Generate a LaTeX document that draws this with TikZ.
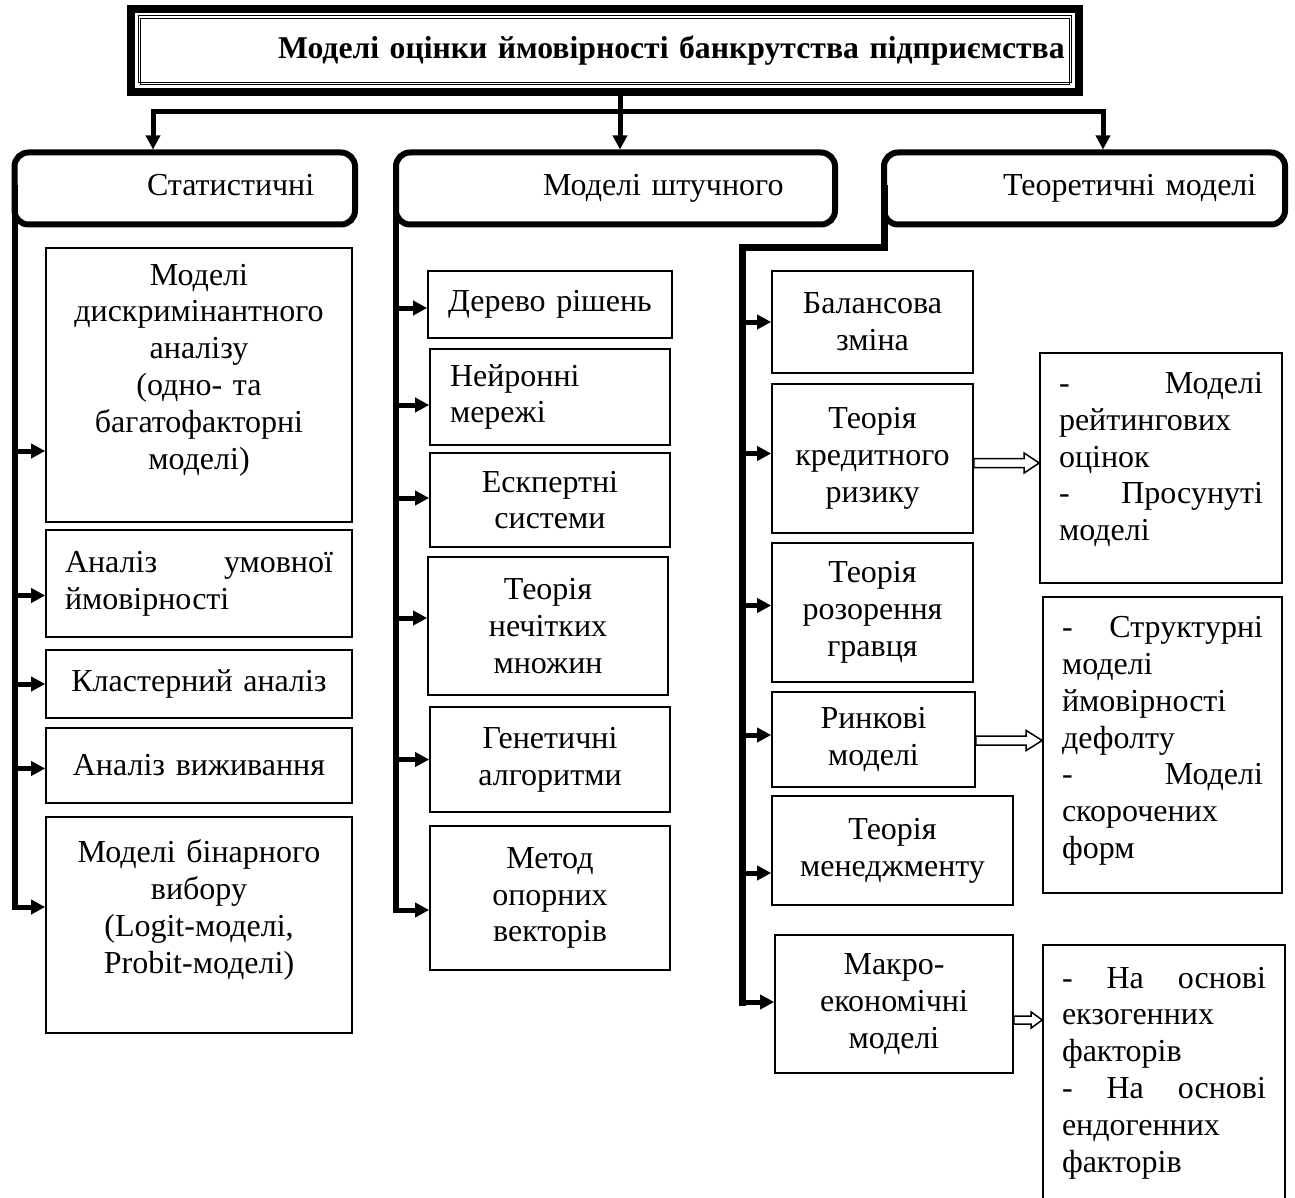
\documentclass[tikz,border=0pt]{standalone}
\usepackage{fontspec}
\setmainfont{Liberation Serif}
\usetikzlibrary{arrows.meta,calc}
\begin{document}
\begin{tikzpicture}[x=1pt,y=-1pt,
  every node/.style={font=\fontsize{32}{36.8}\selectfont},
  bx/.style={draw, line width=1.6pt, rectangle, inner xsep=19pt, inner ysep=0pt, align=center},
  bxl/.style={bx, align=left},
  hd/.style={draw, line width=6pt, rounded corners=14pt, inner sep=0pt, outer sep=3pt, align=left,
             text height=22pt, text depth=7pt},
  spine/.style={line width=6pt, line cap=rect},
  spinethick/.style={line width=7pt, line cap=rect},
  br/.style={line width=5pt, -{Triangle[length=14pt,width=14pt]}},
  topline/.style={line width=5pt},
  hollow/.style={draw, line width=1.5pt, fill=white}
]
\fill[white] (0,0) rectangle (1295,1198);
\useasboundingbox (0,0) rectangle (1295,1198);
\clip (0,0) rectangle (1295,1198);

% title
\node[inner sep=0pt, minimum width=948pt, minimum height=83pt, text width=948pt, align=left,
      font=\fontsize{31.7}{36.8}\selectfont\bfseries] (title) at (605,50.5)
      {\hspace*{147pt}Моделі оцінки ймовірності банкрутства підприємства};
\draw[line width=8.5pt] (title.north west) rectangle (title.south east);
\draw[line width=1pt] ($(title.north west)+(7.5,7)$) rectangle ($(title.south east)+(-7.5,-10)$);
\draw[line width=1pt] ($(title.north west)+(10,9.5)$) rectangle ($(title.south east)+(-10,-7.5)$);

% headers
\node[hd, minimum width=340.5pt, minimum height=72pt, text width=340.5pt] (h1) at (184.75,188.5)
  {\hspace*{132.5pt}Статистичні};
\node[hd, minimum width=439pt, minimum height=72pt, text width=439pt] (h2) at (615.5,188.5)
  {\hspace*{147pt}Моделі штучного};
\node[hd, minimum width=401pt, minimum height=72pt, text width=401pt] (h3) at (1084.5,188.5)
  {\hspace*{119pt}Теоретичні моделі};

% top connectors
\coordinate (jl) at (153,112);
\coordinate (jm) at (620,112);
\coordinate (jr) at (1103,112);
\draw[topline, {Triangle[length=14pt,width=14pt]}-{Triangle[length=14pt,width=14pt]}]
  (h1.north -| jl) -- (jl) -- (jr) -- (h3.north -| jr);
\draw[topline, -{Triangle[length=14pt,width=14pt]}] (title.south -| jm) -- (h2.north -| jm);

% left column boxes
\node[bx, minimum width=306pt, minimum height=274pt, text width=268pt] (A) at (199,385)
  {Моделі\\ дискримінантного\\ аналізу\\ (одно- та\\ багатофакторні\\ моделі)\\ ~};
\node[bxl, minimum width=306pt, minimum height=107pt, text width=268pt] (B) at (199,583.5)
  {Аналіз\hfill умовної\\ ймовірності};
\node[bx, minimum width=306pt, minimum height=68pt, text width=268pt] (C) at (199,684)
  {Кластерний аналіз};
\node[bx, minimum width=306pt, minimum height=75pt, text width=268pt] (D) at (199,765.5)
  {Аналіз виживання};
\node[bx, minimum width=306pt, minimum height=216pt, text width=268pt] (E) at (199,925)
  {Моделі бінарного\\ вибору\\ (Logit-моделі,\\ Probit-моделі)\\ ~};

% middle column boxes
\node[bx, minimum width=244pt, minimum height=67pt, text width=206pt] (M1) at (550,304.5)
  {Дерево рішень};
\node[bxl, minimum width=240pt, minimum height=96pt, text width=200pt, inner xsep=20pt] (M2) at (550,397)
  {Нейронні\\ мережі};
\node[bx, minimum width=240pt, minimum height=94pt, text width=202pt] (M3) at (550,500)
  {Ескпертні\\ системи};
\node[bx, minimum width=240pt, minimum height=138pt, text width=202pt] (M4) at (548,626)
  {Теорія\\ нечітких\\ множин};
\node[bx, minimum width=240pt, minimum height=105pt, text width=202pt] (M5) at (550,759.5)
  {Генетичні\\ алгоритми};
\node[bx, minimum width=240pt, minimum height=144pt, text width=202pt] (M6) at (550,898)
  {Метод\\ опорних\\ векторів};

% right column boxes
\node[bx, minimum width=201pt, minimum height=102pt, text width=181pt, inner xsep=10pt] (T1) at (872.5,322)
  {Балансова\\ зміна};
\node[bx, minimum width=201pt, minimum height=149pt, text width=181pt, inner xsep=10pt] (T2) at (872.5,458.5)
  {Теорія\\ кредитного\\ ризику};
\node[bx, minimum width=201pt, minimum height=139pt, text width=181pt, inner xsep=10pt] (T3) at (872.5,612.5)
  {Теорія\\ розорення\\ гравця};
\node[bx, minimum width=203pt, minimum height=95pt, text width=183pt, inner xsep=10pt] (T4) at (873.5,739.5)
  {Ринкові\\ моделі};
\node[bx, minimum width=241pt, minimum height=109pt, text width=221pt, inner xsep=10pt] (T5) at (892.5,850.5)
  {Теорія\\ менеджменту};
\node[bx, minimum width=238pt, minimum height=138pt, text width=218pt, inner xsep=10pt] (T6) at (894,1004)
  {Макро-\\ економічні\\ моделі};

% far right boxes
\node[bxl, minimum width=242pt, minimum height=230pt, text width=204pt] (R1) at (1161,468)
  {-\hfill Моделі\\ рейтингових\\ оцінок\\ -\hfill Просунуті\\ моделі\\[-14pt] ~};
\node[bxl, minimum width=239pt, minimum height=296pt, text width=201pt] (R2) at (1162.5,745)
  {-\hfill Структурні\\ моделі\\ ймовірності\\ дефолту\\ -\hfill Моделі\\ скорочених\\ форм\\[-22pt] ~};
\node[bxl, minimum width=242pt, minimum height=256pt, text width=204pt] (R3) at (1164,1073)
  {-\hfill На\hfill основі\\ екзогенних\\ факторів\\ -\hfill На\hfill основі\\ ендогенних\\ факторів};

% arrow end points
\coordinate (aA) at ([yshift=-66pt]A.west);
\coordinate (aB) at ([yshift=-12pt]B.west);
\coordinate (aC) at (C.west);
\coordinate (aD) at ([yshift=-3pt]D.west);
\coordinate (aE) at ([yshift=18pt]E.west);
\coordinate (aM1) at ([yshift=-3.5pt]M1.west);
\coordinate (aM2) at ([yshift=-8pt]M2.west);
\coordinate (aM3) at ([yshift=2pt]M3.west);
\coordinate (aM4) at ([yshift=8pt]M4.west);
\coordinate (aM5) at (M5.west);
\coordinate (aM6) at ([yshift=-12pt]M6.west);
\coordinate (aT1) at (T1.west);
\coordinate (aT2) at ([yshift=5pt]T2.west);
\coordinate (aT3) at ([yshift=7pt]T3.west);
\coordinate (aT4) at ([yshift=4.5pt]T4.west);
\coordinate (aT5) at ([yshift=-22.5pt]T5.west);
\coordinate (aT6) at ([yshift=2pt]T6.west);

% left spine
\coordinate (s1) at ([xshift=3pt]h1.west);
\draw[spine] (s1) -- (s1 |- aE);
\foreach \t in {aA,aB,aC,aD,aE} \draw[br] (s1 |- \t) -- (\t);

% middle spine
\coordinate (s2) at ([xshift=3pt]h2.west);
\draw[spine] (s2) -- (s2 |- aM6);
\foreach \t in {aM1,aM2,aM3,aM4,aM5,aM6} \draw[br] (s2 |- \t) -- (\t);

% right spine
\coordinate (s3) at ([xshift=3pt]h3.west);
\coordinate (k) at (742,248);
\draw[spinethick] (s3) -- (s3 |- k) -- (k) -- (k |- aT6);
\foreach \t in {aT1,aT2,aT3,aT4,aT5,aT6} \draw[br] (k |- \t) -- (\t);

% hollow arrows
\coordinate (y1) at (0,463);
\coordinate (y2) at (0,740.5);
\coordinate (y3) at (0,1020);
\draw[hollow] let \p1=(T2.east |- y1), \p2=(R1.west |- y1) in
  (\x1,\y1+4.5pt) -- (\x2-15pt,\y1+4.5pt) -- (\x2-15pt,\y1+10pt) -- (\x2,\y1)
  -- (\x2-15pt,\y1-10pt) -- (\x2-15pt,\y1-4.5pt) -- (\x1,\y1-4.5pt) -- cycle;
\draw[hollow] let \p1=(T4.east |- y2), \p2=(R2.west |- y2) in
  (\x1,\y1+4.5pt) -- (\x2-16pt,\y1+4.5pt) -- (\x2-16pt,\y1+10pt) -- (\x2,\y1)
  -- (\x2-16pt,\y1-10pt) -- (\x2-16pt,\y1-4.5pt) -- (\x1,\y1-4.5pt) -- cycle;
\draw[hollow] let \p1=(T6.east |- y3), \p2=(R3.west |- y3) in
  (\x1,\y1+4pt) -- (\x2-11pt,\y1+4pt) -- (\x2-11pt,\y1+8pt) -- (\x2,\y1)
  -- (\x2-11pt,\y1-8pt) -- (\x2-11pt,\y1-4pt) -- (\x1,\y1-4pt) -- cycle;
\end{tikzpicture}
\end{document}
